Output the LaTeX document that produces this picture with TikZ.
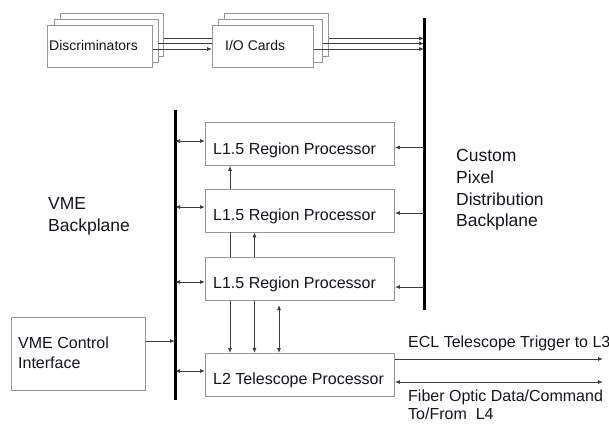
\documentclass[tikz,border=0pt]{standalone}
\usepackage{fontspec}
\setmainfont{Liberation Sans}
\usetikzlibrary{arrows.meta}
\definecolor{boxgray}{RGB}{150,150,150}
\definecolor{linegray}{RGB}{60,60,60}
\definecolor{txtcol}{RGB}{20,20,30}
\begin{document}
\begin{tikzpicture}[x=1pt,y=-1pt,
  box/.style={draw=boxgray, line width=0.9pt, fill=white, inner sep=0pt, anchor=north west},
  rbox/.style={box, minimum width=189pt, minimum height=43pt},
  sbox/.style={box, minimum width=105pt, minimum height=42pt},
  txt/.style={anchor=west, inner sep=0pt, text=txtcol, font=\fontsize{16}{20}\selectfont},
  stxt/.style={anchor=west, inner sep=0pt, text=txtcol, font=\fontsize{14}{17}\selectfont},
  btxt/.style={anchor=west, inner sep=0pt, text=txtcol, align=left, font=\fontsize{17.5}{21.7}\selectfont},
  conn/.style={draw=linegray, line width=0.8pt},
  tip/.tip={Latex[length=5pt,width=4pt]},
  bus/.style={draw=black, line width=3pt}
]
\useasboundingbox (0,0) rectangle (609,423);

% buses
\coordinate (rbt) at (424,18);
\coordinate (rbb) at (424,310);
\coordinate (lbt) at (175,110);
\coordinate (lbb) at (175,400);

% stacked discriminators
\node[box, minimum width=103pt, minimum height=43pt] (d3) at (60,13) {};
\node[box, minimum width=104pt, minimum height=43pt] (d2) at (53.5,19) {};
\node[sbox] (d1) at (47,25) {};
\node[stxt] (dt) at (49,45) {Discriminators};

% connecting lines disc -> IO
\coordinate (c1) at (0,38.5);
\coordinate (c2) at (0,43.5);
\coordinate (c3) at (0,49);
\draw[conn] (d3.east |- c1) -- (212,38.5);
\draw[conn] (d2.east |- c2) -- (212,43.5);

% stacked IO cards
\node[box, minimum width=104pt, minimum height=43pt] (i3) at (224,13) {};
\node[box, minimum width=104pt, minimum height=43pt] (i2) at (218,19) {};
\node[box, minimum width=101pt, minimum height=42pt] (i1) at (212,25) {};
\node[stxt] (it) at (225,45) {I/O Cards};
\draw[conn, -tip] (d1.east |- c3) -- (i1.west |- c3);

% IO -> bus
\draw[conn, -tip] (i3.east |- c1) -- (rbt |- c1);
\draw[conn, -tip] (i2.east |- c2) -- (rbt |- c2);
\draw[conn, -tip] (i1.east |- c3) -- (rbt |- c3);

\draw[bus] (rbt) -- (rbb);
\draw[bus] (lbt) -- (lbb);

% region processors
\node[rbox] (r1) at (205,122) {};
\node[rbox] (r2) at (205,188.5) {};
\node[rbox] (r3) at (205,257) {};
\node[rbox] (l2) at (205,353) {};
\node[txt] at (213,150) {L1.5 Region Processor};
\node[txt] at (213,216) {L1.5 Region Processor};
\node[txt] at (213,284) {L1.5 Region Processor};
\node[txt] at (213,380) {L2 Telescope Processor};

% VME control
\node[box, minimum width=134pt, minimum height=73pt] (vme) at (11,317) {};
\node[txt, align=left, font=\fontsize{16}{20}\selectfont] at (18,353) {VME Control\\Interface};

% left bus arrows
\coordinate (y1) at (0,141);
\coordinate (y2) at (0,207);
\coordinate (y3) at (0,282);
\coordinate (y4) at (0,371);
\coordinate (y5) at (0,341);
\draw[conn, tip-tip] (lbt |- y1) -- (r1.west |- y1);
\draw[conn, tip-tip] (lbt |- y2) -- (r2.west |- y2);
\draw[conn, tip-tip] (lbt |- y3) -- (r3.west |- y3);
\draw[conn, tip-tip] (lbt |- y4) -- (l2.west |- y4);
\draw[conn, -tip] (vme.east |- y5) -- (lbt |- y5);

% right bus arrows
\coordinate (z1) at (0,147.5);
\coordinate (z2) at (0,213);
\coordinate (z3) at (0,287);
\draw[conn, -tip] (rbt |- z1) -- (r1.east |- z1);
\draw[conn, -tip] (rbt |- z2) -- (r2.east |- z2);
\draw[conn, -tip] (rbt |- z3) -- (r3.east |- z3);

% vertical connections
\coordinate (xa) at (230,0);
\coordinate (xb) at (254.5,0);
\coordinate (xc) at (279,0);
\coordinate (xct) at (279,305);
\draw[conn, -tip] (r2.north -| xa) -- (r1.south -| xa);
\draw[conn] (r3.north -| xa) -- (r2.south -| xa);
\draw[conn, -tip] (r3.south -| xa) -- (l2.north -| xa);
\draw[conn, -tip] (r3.north -| xb) -- (r2.south -| xb);
\draw[conn, -tip] (r3.south -| xb) -- (l2.north -| xb);
\draw[conn, tip-tip] (xct) -- (l2.north -| xc);

% outputs
\coordinate (o1) at (603,359);
\coordinate (o2) at (603,382);
\draw[conn, -tip] (l2.east |- o1) -- (o1);
\draw[conn, tip-tip] (l2.east |- o2) -- (o2);
\node[txt] at (408,343) {ECL Telescope Trigger to L3};
\node[txt, align=left, font=\fontsize{16}{18}\selectfont] at (408,404.5) {Fiber Optic Data/Command\\To/From\ \ L4};

% labels
\node[btxt] at (456,190) {Custom\\Pixel\\Distribution\\Backplane};
\node[btxt] at (48,216) {VME\\Backplane};
\end{tikzpicture}
\end{document}
